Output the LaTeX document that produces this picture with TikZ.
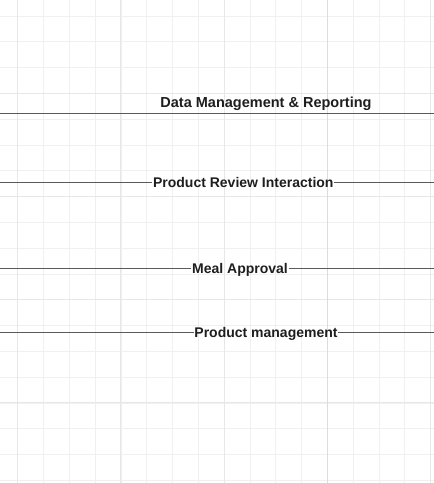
\documentclass[tikz,border=0pt]{standalone}
\usepackage{fontspec}
\setmainfont{Liberation Sans}
\definecolor{gminor}{HTML}{F0F0F0}
\definecolor{gmed}{HTML}{E7E7E7}
\definecolor{gmajor}{HTML}{DCDCDC}
\definecolor{conncol}{HTML}{5A5A5A}
\definecolor{txtcol}{HTML}{1E1E1E}
\begin{document}
\begin{tikzpicture}[x=1pt,y=-1pt,
  minor/.style={draw=gminor, line width=0.8pt},
  medium/.style={draw=gmed, line width=1pt},
  major/.style={draw=gmajor, line width=1.4pt},
  conn/.style={draw=conncol, line width=0.9pt},
  lbl/.style={text=txtcol, inner xsep=0.6pt, inner ysep=0pt, anchor=base,
    font=\bfseries\fontsize{14}{16}\selectfont},
  ttl/.style={lbl, font=\bfseries\fontsize{14.5}{17}\selectfont}]
\useasboundingbox (0,0) rectangle (434,483);
\fill[white] (0,0) rectangle (434,483);
% grid
\foreach \i in {0,...,16} \draw[minor] ({17.7+25.8*\i},0) -- ({17.7+25.8*\i},483);
\foreach \i in {0,...,18} \draw[minor] (0,{16+25.8*\i}) -- (434,{16+25.8*\i});
\foreach \i in {0,1,2,4} \draw[medium] ({17.7+103.2*\i},0) -- ({17.7+103.2*\i},483);
\foreach \i in {0,...,3} \draw[medium] (0,{93.1+103.2*\i}) -- (434,{93.1+103.2*\i});
\draw[major] (327.3,0) -- (327.3,483);
% title and first line
\node[ttl] (t1) at (266,107.5) {Data Management \& Reporting};
\coordinate (l1a) at (0,113.3);
\coordinate (l1b) at (434,113.3);
\draw[conn] (l1a) -- (l1b);
% labelled lines
\node[lbl] (t2) at (243.3,187.7) {Product Review Interaction};
\coordinate (l2a) at (0,182.7);
\coordinate (l2b) at (434,182.7);
\draw[conn] (l2a) -- (l2a -| t2.west);
\draw[conn] (l2b -| t2.east) -- (l2b);
\node[lbl] (t3) at (240,273.3) {Meal Approval};
\coordinate (l3a) at (0,268.5);
\coordinate (l3b) at (434,268.5);
\draw[conn] (l3a) -- (l3a -| t3.west);
\draw[conn] (l3b -| t3.east) -- (l3b);
\node[lbl] (t4) at (266,337.5) {Product management};
\coordinate (l4a) at (0,332.5);
\coordinate (l4b) at (434,332.5);
\draw[conn] (l4a) -- (l4a -| t4.west);
\draw[conn] (l4b -| t4.east) -- (l4b);
\end{tikzpicture}
\end{document}
